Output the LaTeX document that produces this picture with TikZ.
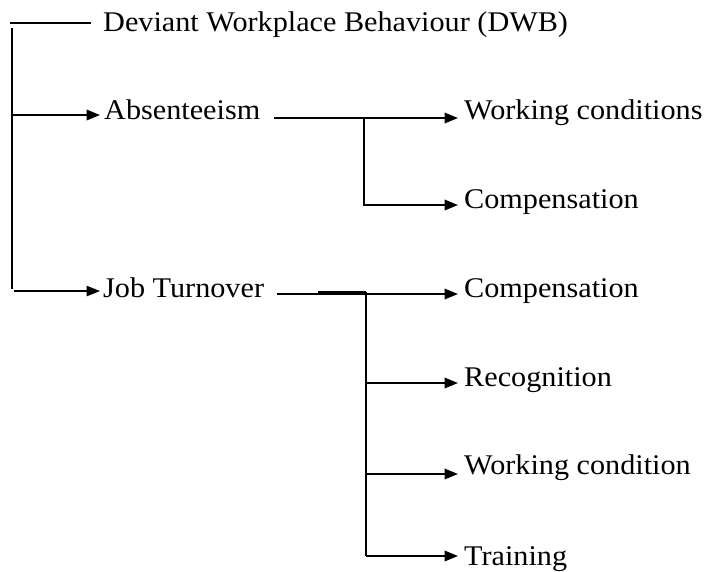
\documentclass[tikz,border=0pt]{standalone}
\usepackage{fontspec}
\setmainfont{Liberation Serif}[FakeStretch=1.06]
\usetikzlibrary{arrows.meta}
\tikzset{mytip/.tip={Triangle[length=13.5pt,width=10.5pt]}}
\begin{document}
\begin{tikzpicture}[x=1pt,y=-1pt,
  lbl/.style={anchor=base west,inner sep=0pt,font=\fontsize{28.5}{34}\selectfont},
  thinline/.style={line width=1.1pt},
  thickline/.style={line width=2pt},
  arr/.style={-mytip,shorten >=6pt}]
\useasboundingbox (0,0) rectangle (708,571);
% texts
\node[lbl] (dwb) at (103,31) {Deviant Workplace Behaviour (DWB)};
\node[lbl] (abs) at (104,119) {Absenteeism};
\node[lbl] (job) at (103,297) {Job Turnover};
\node[lbl] (wc1) at (464,119) {Working conditions};
\node[lbl] (cp1) at (464,208) {Compensation};
\node[lbl] (cp2) at (464,297) {Compensation};
\node[lbl] (rec) at (464,386) {Recognition};
\node[lbl] (wc2) at (464,474) {Working condition};
\node[lbl] (trn) at (464,565) {Training};
% coordinates
\coordinate (t1) at (10,23);
\coordinate (t2) at (91,23);
\coordinate (v1) at (12,28);
\coordinate (v2) at (12,289);
\coordinate (aa) at (12,115);
\coordinate (ja) at (14,291);
\coordinate (s1) at (274,118);
\coordinate (b1) at (364,118);
\coordinate (b1e) at (364,205);
\coordinate (s2) at (277,294);
\coordinate (k1) at (318,292);
\coordinate (b2) at (366,292);
\coordinate (b2r) at (366,383);
\coordinate (b2w) at (366,474);
\coordinate (b2t) at (366,556);
% left tree
\draw[thinline] (t1) -- (t2);
\draw[thinline] (v1) -- (v2);
\draw[thickline,arr,shorten >=4pt] (aa) -- (aa -| abs.west);
\draw[thinline,arr,shorten >=3pt] (ja) -- (ja -| job.west);
% absenteeism branch
\draw[thickline,arr] (s1) -- (s1 -| wc1.west);
\draw[thickline,arr] (b1) -- (b1e) -- (b1e -| cp1.west);
% job turnover branch
\draw[thickline,arr] (s2) -- (s2 -| cp2.west);
\draw[line width=2.5pt] (k1) -- (b2);
\draw[thickline] (b2) -- (b2t);
\draw[thickline,arr] (b2r) -- (b2r -| rec.west);
\draw[thickline,arr] (b2w) -- (b2w -| wc2.west);
\draw[thickline,arr] (b2t) -- (b2t -| trn.west);
\end{tikzpicture}
\end{document}
